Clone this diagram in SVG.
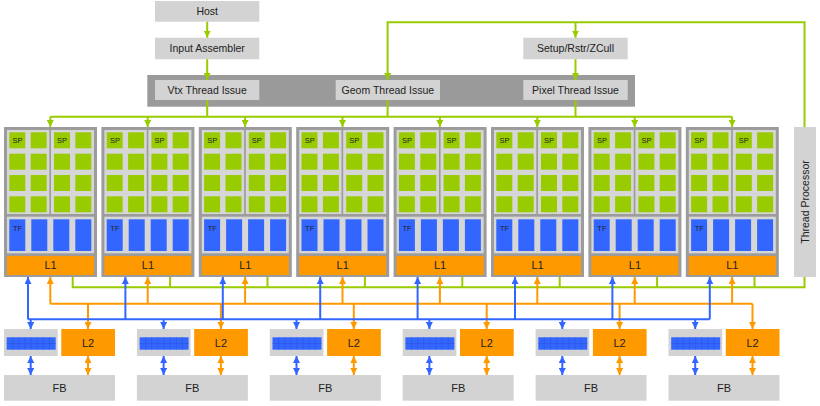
<svg xmlns="http://www.w3.org/2000/svg" width="820" height="406" viewBox="0 0 820 406">
<style>
text{font-family:"Liberation Sans",Arial,sans-serif;fill:#222;text-anchor:middle}
.box{fill:#d3d3d3}
.t{font-size:10.5px}
.sm{font-size:7.5px}
.lb{font-size:11px}
.pan{fill:#d6d6d6}
.sp{fill:#99cc00}
.tf{fill:#3366ff}
.l1{fill:#ff9900}
.g{stroke:#99cc00;stroke-width:2;fill:none}
.o{stroke:#ff9900;stroke-width:2;fill:none}
.b{stroke:#3366ff;stroke-width:2;fill:none}
.ga{marker-end:url(#ag)}
.oa{marker-end:url(#ao)}
.ba{marker-end:url(#ab)}
.od{marker-start:url(#ao);marker-end:url(#ao)}
.bd{marker-start:url(#ab);marker-end:url(#ab)}
</style>
<defs>
<marker id="ag" viewBox="0 0 8 8" refX="8" refY="4" markerWidth="7" markerHeight="7" markerUnits="userSpaceOnUse" orient="auto-start-reverse"><path d="M0,0 L8,4 L0,8 z" fill="#99cc00"/></marker>
<marker id="ao" viewBox="0 0 8 8" refX="8" refY="4" markerWidth="7" markerHeight="7" markerUnits="userSpaceOnUse" orient="auto-start-reverse"><path d="M0,0 L8,4 L0,8 z" fill="#ff9900"/></marker>
<marker id="ab" viewBox="0 0 8 8" refX="8" refY="4" markerWidth="7" markerHeight="7" markerUnits="userSpaceOnUse" orient="auto-start-reverse"><path d="M0,0 L8,4 L0,8 z" fill="#3366ff"/></marker>
<g id="cl">
<rect x="0" y="127" width="93" height="150" fill="#9c9c9c"/>
<rect x="3" y="130" width="42.3" height="84" class="pan"/>
<rect x="47" y="130" width="43" height="84" class="pan"/>
<rect x="3" y="216.7" width="87" height="36.6" class="pan"/>
<g class="sp">
<rect x="5.3" y="132.3" width="16" height="16"/><rect x="26.7" y="132.3" width="16" height="16"/><rect x="50" y="132.3" width="16" height="16"/><rect x="71.3" y="132.3" width="16" height="16"/>
<rect x="5.3" y="153.7" width="16" height="16"/><rect x="26.7" y="153.7" width="16" height="16"/><rect x="50" y="153.7" width="16" height="16"/><rect x="71.3" y="153.7" width="16" height="16"/>
<rect x="5.3" y="175" width="16" height="16"/><rect x="26.7" y="175" width="16" height="16"/><rect x="50" y="175" width="16" height="16"/><rect x="71.3" y="175" width="16" height="16"/>
<rect x="5.3" y="196.3" width="16" height="16"/><rect x="26.7" y="196.3" width="16" height="16"/><rect x="50" y="196.3" width="16" height="16"/><rect x="71.3" y="196.3" width="16" height="16"/>
</g>
<g class="tf">
<rect x="5.3" y="219.3" width="16" height="31.7"/><rect x="27.3" y="219.3" width="16" height="31.7"/><rect x="49.3" y="219.3" width="16" height="31.7"/><rect x="71.3" y="219.3" width="16" height="31.7"/>
</g>
<rect x="3" y="256" width="87" height="19" class="l1"/>
<text x="13.5" y="142.5" class="sm">SP</text>
<text x="58" y="142.5" class="sm">SP</text>
<text x="13.5" y="230.5" class="sm">TF</text>
<text x="46.5" y="268.5" class="lb">L1</text>
</g>
<g id="pt">
<rect x="0" y="329" width="53.7" height="27" class="box"/>
<rect x="2.7" y="337.3" width="49" height="12.4" fill="#3366ff"/>
<path d="M8.8,337.3V349.7M14.9,337.3V349.7M21,337.3V349.7M27.2,337.3V349.7M33.3,337.3V349.7M39.4,337.3V349.7M45.5,337.3V349.7M2.7,343.5H51.7" stroke="#2a55dd" stroke-width="0.6" fill="none"/>
<rect x="57.3" y="329" width="53.7" height="27" class="l1"/>
<text x="84" y="346.5" class="lb">L2</text>
<rect x="0" y="375" width="111" height="25.7" class="box"/>
<text x="55.5" y="391.5" class="lb">FB</text>
</g>
</defs>
<rect width="820" height="406" fill="#ffffff"/>
<rect id="issueBand" x="147.3" y="75" width="487.7" height="31.7" fill="#9a9a9a"/>
<g id="host"><rect x="155" y="1" width="104.3" height="20.7" class="box"/><text x="207.2" y="15.1" class="t">Host</text></g>
<g id="inputAssembler"><rect x="155" y="37.7" width="104.3" height="21.6" class="box"/><text x="207.2" y="52.3" class="t">Input Assembler</text></g>
<g id="setup"><rect x="523.3" y="37.7" width="104.4" height="21.6" class="box"/><text x="575.5" y="52.3" class="t">Setup/Rstr/ZCull</text></g>
<g id="vtx"><rect x="155" y="80" width="104.3" height="20" class="box"/><text x="207.2" y="93.8" class="t">Vtx Thread Issue</text></g>
<g id="geom"><rect x="335.7" y="80" width="104.3" height="20" class="box"/><text x="387.9" y="93.8" class="t">Geom Thread Issue</text></g>
<g id="pixel"><rect x="523.3" y="80" width="104.4" height="20" class="box"/><text x="575.5" y="93.8" class="t">Pixel Thread Issue</text></g>
<g id="threadProcessor"><rect x="794" y="127" width="22" height="150" class="box"/><text x="805" y="205.8" class="t" transform="rotate(-90 805 202)">Thread Processor</text></g>
<g id="cluster1" transform="translate(4,0)"><use href="#cl"/></g>
<g id="cluster2" transform="translate(101.4,0)"><use href="#cl"/></g>
<g id="cluster3" transform="translate(198.8,0)"><use href="#cl"/></g>
<g id="cluster4" transform="translate(296.2,0)"><use href="#cl"/></g>
<g id="cluster5" transform="translate(393.6,0)"><use href="#cl"/></g>
<g id="cluster6" transform="translate(491,0)"><use href="#cl"/></g>
<g id="cluster7" transform="translate(588.4,0)"><use href="#cl"/></g>
<g id="cluster8" transform="translate(685.8,0)"><use href="#cl"/></g>
<g id="partition1" transform="translate(4,0)"><use href="#pt"/></g>
<g id="partition2" transform="translate(136.9,0)"><use href="#pt"/></g>
<g id="partition3" transform="translate(269.8,0)"><use href="#pt"/></g>
<g id="partition4" transform="translate(402.7,0)"><use href="#pt"/></g>
<g id="partition5" transform="translate(535.6,0)"><use href="#pt"/></g>
<g id="partition6" transform="translate(668.5,0)"><use href="#pt"/></g>
<g id="connectors">
<path class="g ga" d="M207.2,21.7V37.7"/>
<path class="g ga" d="M207.2,59.3V80"/>
<path class="g ga" d="M575.5,59.3V80"/>
<path class="g ga" d="M804.5,127V22.3H387.6V80"/>
<path class="g ga" d="M575.5,22.3V37.7"/>
<path class="g" d="M207.2,100V116.7M387.6,100V116.7M575.5,100V116.7M50.3,116.7H732.1"/>
<path class="g ga" d="M50.3,116.7V127"/><path class="g ga" d="M147.7,116.7V127"/><path class="g ga" d="M245.1,116.7V127"/><path class="g ga" d="M342.5,116.7V127"/>
<path class="g ga" d="M439.9,116.7V127"/><path class="g ga" d="M537.3,116.7V127"/><path class="g ga" d="M634.7,116.7V127"/><path class="g ga" d="M732.1,116.7V127"/>
<path class="g" d="M72.7,277V287.3H804.5V277M170.1,277V287.3M267.5,277V287.3M364.9,277V287.3M462.3,277V287.3M559.7,277V287.3M657.1,277V287.3M754.5,277V287.3"/>
<path class="o" d="M50.3,303.7H752.5"/>
<path class="o oa" d="M50.3,303.7V277"/><path class="o oa" d="M147.7,303.7V277"/><path class="o oa" d="M245.1,303.7V277"/><path class="o oa" d="M342.5,303.7V277"/>
<path class="o oa" d="M439.9,303.7V277"/><path class="o oa" d="M537.3,303.7V277"/><path class="o oa" d="M634.7,303.7V277"/><path class="o oa" d="M732.1,303.7V277"/>
<path class="o oa" d="M88,303.7V329"/><path class="o oa" d="M220.9,303.7V329"/><path class="o oa" d="M353.8,303.7V329"/><path class="o oa" d="M486.7,303.7V329"/><path class="o oa" d="M619.6,303.7V329"/><path class="o oa" d="M752.5,303.7V329"/>
<path class="b" d="M28,319.3H709.8"/>
<path class="b ba" d="M28,319.3V277"/><path class="b ba" d="M125.4,319.3V277"/><path class="b ba" d="M222.8,319.3V277"/><path class="b ba" d="M320.2,319.3V277"/>
<path class="b ba" d="M417.6,319.3V277"/><path class="b ba" d="M515,319.3V277"/><path class="b ba" d="M612.4,319.3V277"/><path class="b ba" d="M709.8,319.3V277"/>
<path class="b ba" d="M30.7,319.3V329"/><path class="b ba" d="M163.6,319.3V329"/><path class="b ba" d="M296.5,319.3V329"/><path class="b ba" d="M429.4,319.3V329"/><path class="b ba" d="M562.3,319.3V329"/><path class="b ba" d="M695.2,319.3V329"/>
<path class="b bd" d="M30.7,356V375"/><path class="b bd" d="M163.6,356V375"/><path class="b bd" d="M296.5,356V375"/><path class="b bd" d="M429.4,356V375"/><path class="b bd" d="M562.3,356V375"/><path class="b bd" d="M695.2,356V375"/>
<path class="o od" d="M88,356V375"/><path class="o od" d="M220.9,356V375"/><path class="o od" d="M353.8,356V375"/><path class="o od" d="M486.7,356V375"/><path class="o od" d="M619.6,356V375"/><path class="o od" d="M752.5,356V375"/>
</g>
</svg>
